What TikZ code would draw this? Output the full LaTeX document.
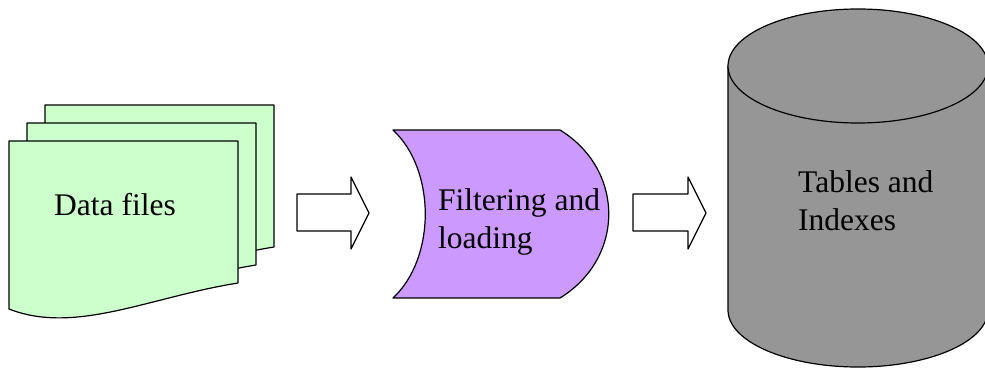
\documentclass[tikz,border=0pt]{standalone}
\usepackage{fontspec}
\setmainfont{Liberation Serif}
\definecolor{sheetgreen}{HTML}{CCFFCC}
\definecolor{procpurple}{HTML}{CC99FF}
\definecolor{dbgray}{HTML}{969696}
\begin{document}
\begin{tikzpicture}[x=1pt,y=-1pt,
  outline/.style={draw=black,line width=1.2pt,line join=round},
  lbl/.style={inner sep=0pt,anchor=base west,font=\fontsize{31.5}{38}\selectfont},
  blockarrow/.style={outline,fill=white}]
\useasboundingbox (0,0) rectangle (985,369);
% stacked data files
\foreach \d/\n in {36/back,18/middle,0/front}{
  \begin{scope}[shift={(\d,-\d)}]
    \draw[outline,fill=sheetgreen] (9,141) -- (238,141) -- (238,283)
      .. controls (150,297) and (75,335) .. (9,309) -- cycle;
  \end{scope}
}
\node[lbl] (datafiles) at (54,215) {Data files};
% arrow 1
\draw[blockarrow] (297,194) -- (351,194) -- (351,177) -- (369,213) -- (351,249) -- (351,231) -- (297,231) -- cycle;
% stored data shape
\draw[outline,fill=procpurple] (393,130) -- (560,130)
  .. controls (625,170) and (625,258) .. (560,298) -- (393,298)
  .. controls (436,258) and (436,170) .. (393,130) -- cycle;
\node[lbl] (filt1) at (438,210) {Filtering and};
\node[lbl] (filt2) at (438,248) {loading};
% arrow 2
\draw[blockarrow] (633,194) -- (688,194) -- (688,177) -- (706,213) -- (688,249) -- (688,231) -- (633,231) -- cycle;
% cylinder
\fill[dbgray] (728,66) -- (728,310) arc[start angle=180,end angle=0,x radius=130,y radius=57] -- (988,66) -- cycle;
\draw[outline] (728,66) -- (728,310) arc[start angle=180,end angle=0,x radius=130,y radius=57] -- (988,66);
\draw[outline,fill=dbgray] (858,66) ellipse[x radius=130,y radius=57];
\node[lbl] (tab1) at (798,192) {Tables and};
\node[lbl] (tab2) at (798,230) {Indexes};
\end{tikzpicture}
\end{document}
